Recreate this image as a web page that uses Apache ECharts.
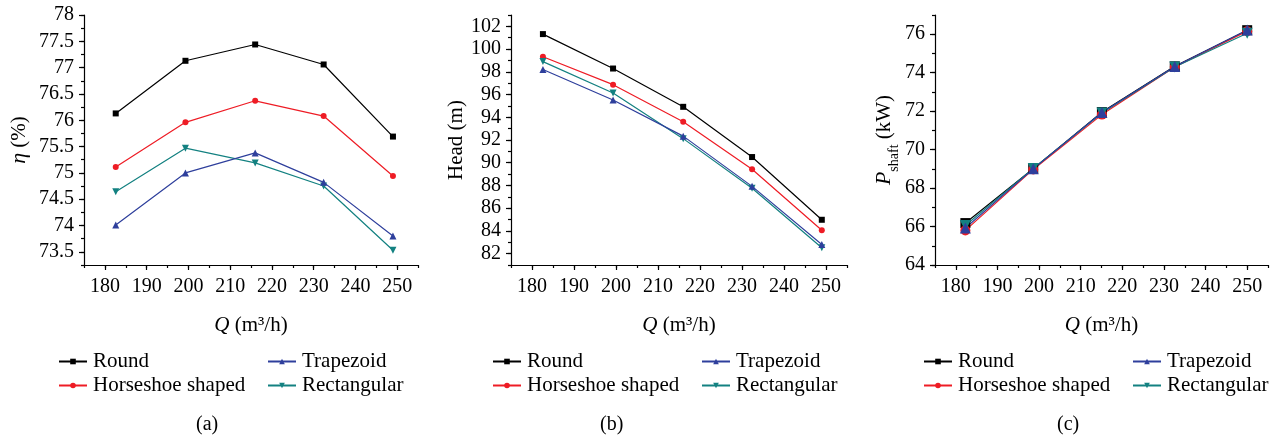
<!DOCTYPE html>
<html>
<head>
<meta charset="utf-8">
<script src="https://cdn.jsdelivr.net/npm/echarts@6/dist/echarts.min.js"></script>
<style>
html,body{margin:0;padding:0;background:#fff;}
#chart{width:1280px;height:437px;}
</style>
</head>
<body>
<div id="chart"></div>
<script>
// ---------- data ----------
const seriesNames = ['Round', 'Horseshoe shaped', 'Trapezoid', 'Rectangular'];
const qAB = [182.6, 199.3, 216.0, 232.4, 249.0];
const qC = [182.3, 198.6, 215.1, 232.6, 250.0];

const effRound = [76.13, 77.13, 77.44, 77.06, 75.69];
const effHorseshoe = [75.11, 75.96, 76.37, 76.08, 74.94];
const effTrapezoid = [74.01, 75.00, 75.38, 74.82, 73.80];
const effRectangular = [74.64, 75.47, 75.19, 74.75, 73.53];

const headRound = [101.32, 98.29, 94.92, 90.50, 84.98];
const headHorseshoe = [99.33, 96.87, 93.61, 89.42, 84.06];
const headTrapezoid = [98.20, 95.52, 92.34, 87.92, 82.80];
const headRectangular = [98.90, 96.13, 92.12, 87.75, 82.52];

const powRound = [66.18, 69.01, 71.95, 74.33, 76.21];
const powHorseshoe = [65.80, 68.97, 71.82, 74.30, 76.16];
const powTrapezoid = [65.92, 69.00, 71.93, 74.32, 76.22];
const powRectangular = [66.05, 69.02, 71.90, 74.30, 76.05];

const xMajorTicks = [180, 190, 200, 210, 220, 230, 240, 250];
const effMajorTicks = [73.5, 74, 74.5, 75, 75.5, 76, 76.5, 77, 77.5, 78];
const headMajorTicks = [82, 84, 86, 88, 90, 92, 94, 96, 98, 100, 102];
const powMajorTicks = [64, 66, 68, 70, 72, 74, 76];

// ---------- styles ----------
const FONT = 'Liberation Serif';
const colors = { 'Round': '#000000', 'Horseshoe shaped': '#ee1c25', 'Trapezoid': '#2e3f9c', 'Rectangular': '#138181' };
const symbols = { 'Round': 'rect', 'Horseshoe shaped': 'circle', 'Trapezoid': 'triangle', 'Rectangular': 'triangle' };
const rotates = { 'Round': 0, 'Horseshoe shaped': 0, 'Trapezoid': 0, 'Rectangular': 180 };

const grids = [
  { left: 84, right: 862, top: 15, bottom: 172 },
  { left: 511, right: 433, top: 15, bottom: 172 },
  { left: 935, right: 12, top: 15, bottom: 172 }
];

const xAxes = [], yAxes = [], series = [], legends = [];
const lineStyle = { color: '#000', width: 1.2 };

function addPanel(g, yMin, yMax, yMinor, yMajors, yName, yRich, yGap, data, q, symSize) {
  grids[g].containLabel = false;
  // x axis: base (line + minor ticks)
  xAxes.push({
    type: 'value', gridIndex: g, min: 175, max: 255, interval: 5, position: 'bottom',
    axisLine: { show: true, onZero: false, lineStyle }, splitLine: { show: false },
    axisTick: { show: true, length: 3, lineStyle }, axisLabel: { show: false },
    name: '{i|Q} (m³/h)', nameLocation: 'middle', nameGap: 50,
    nameTextStyle: { fontFamily: FONT, fontSize: 21, color: '#000',
      rich: { i: { fontFamily: FONT, fontSize: 21, fontStyle: 'italic', color: '#000' } } }
  });
  // x axis overlay: major ticks + labels
  xAxes.push({
    type: 'value', gridIndex: g, min: 175, max: 255, interval: 5, position: 'bottom',
    axisLine: { show: false, onZero: false }, splitLine: { show: false },
    axisTick: { show: true, length: 5, lineStyle, customValues: xMajorTicks },
    axisLabel: { show: true, customValues: xMajorTicks, fontFamily: FONT, fontSize: 20, color: '#000', margin: 12 }
  });
  yAxes.push({
    type: 'value', gridIndex: g, min: yMin, max: yMax, interval: yMinor, position: 'left',
    axisLine: { show: true, onZero: false, lineStyle }, splitLine: { show: false },
    axisTick: { show: true, length: 3, lineStyle }, axisLabel: { show: false },
    name: yName, nameLocation: 'middle', nameGap: yGap, nameRotate: 90,
    nameTextStyle: { fontFamily: FONT, fontSize: 21, color: '#000', rich: yRich }
  });
  yAxes.push({
    type: 'value', gridIndex: g, min: yMin, max: yMax, interval: yMinor, position: 'left',
    axisLine: { show: false, onZero: false }, splitLine: { show: false },
    axisTick: { show: true, length: 5, lineStyle, customValues: yMajors },
    axisLabel: { show: true, customValues: yMajors, fontFamily: FONT, fontSize: 20, color: '#000', margin: 10 }
  });
  const order = ['Round', 'Horseshoe shaped', 'Rectangular', 'Trapezoid'];
  order.forEach(function (name) {
    const vals = data[name];
    const isTri = symbols[name] === 'triangle';
    series.push({
      name: name, type: 'line', xAxisIndex: g * 2, yAxisIndex: g * 2,
      data: q.map(function (x, i) { return [x, vals[i]]; }),
      symbol: symbols[name], symbolRotate: rotates[name],
      symbolSize: isTri ? symSize + 1 : symSize,
      showSymbol: true,
      itemStyle: { color: colors[name] },
      lineStyle: { color: colors[name], width: 1.2 },
      emphasis: { disabled: true }, animation: false
    });
  });
}

addPanel(0, 73.25, 78, 0.25, effMajorTicks, '{i|η} (%)',
  { i: { fontFamily: FONT, fontSize: 22, fontStyle: 'italic', color: '#000' } }, 54,
  { 'Round': effRound, 'Horseshoe shaped': effHorseshoe, 'Trapezoid': effTrapezoid, 'Rectangular': effRectangular }, qAB, 6);
addPanel(1, 81, 103, 1, headMajorTicks, 'Head (m)', {}, 44,
  { 'Round': headRound, 'Horseshoe shaped': headHorseshoe, 'Trapezoid': headTrapezoid, 'Rectangular': headRectangular }, qAB, 6);
addPanel(2, 64, 77, 1, powMajorTicks, '{i|P}{s|shaft} (kW)',
  { i: { fontFamily: FONT, fontSize: 22, fontStyle: 'italic', color: '#000' },
    s: { fontFamily: FONT, fontSize: 14, color: '#000', verticalAlign: 'bottom', padding: [0, 0, -6, 0] } }, 40,
  { 'Round': powRound, 'Horseshoe shaped': powHorseshoe, 'Trapezoid': powTrapezoid, 'Rectangular': powRectangular }, qC, 10);

// legends: two columns per panel
const legendCols = [[58, 267], [492, 701], [923, 1132]];
legendCols.forEach(function (cols) {
  [[ 'Round', 'Horseshoe shaped' ], [ 'Trapezoid', 'Rectangular' ]].forEach(function (names, c) {
    legends.push({
      orient: 'vertical', left: cols[c], top: 351, itemGap: 3, padding: 0,
      itemWidth: 28, itemHeight: 7, selectedMode: false,
      data: names.map(function (n) { return { name: n, itemStyle: { color: colors[n] } }; }),
      textStyle: { fontFamily: FONT, fontSize: 21, color: '#000', padding: [0, 0, 0, 1] }
    });
  });
});

const option = {
  animation: false,
  backgroundColor: '#ffffff',
  grid: grids,
  xAxis: xAxes,
  yAxis: yAxes,
  legend: legends,
  series: series,
  graphic: [
    { type: 'text', left: 196, top: 415, style: { text: '(a)', fontFamily: FONT, fontSize: 20, fill: '#000' } },
    { type: 'text', left: 600, top: 415, style: { text: '(b)', fontFamily: FONT, fontSize: 20, fill: '#000' } },
    { type: 'text', left: 1057, top: 415, style: { text: '(c)', fontFamily: FONT, fontSize: 20, fill: '#000' } }
  ]
};

const chart = echarts.init(document.getElementById('chart'), null, { renderer: 'canvas' });
chart.setOption(option);
</script>
</body>
</html>
